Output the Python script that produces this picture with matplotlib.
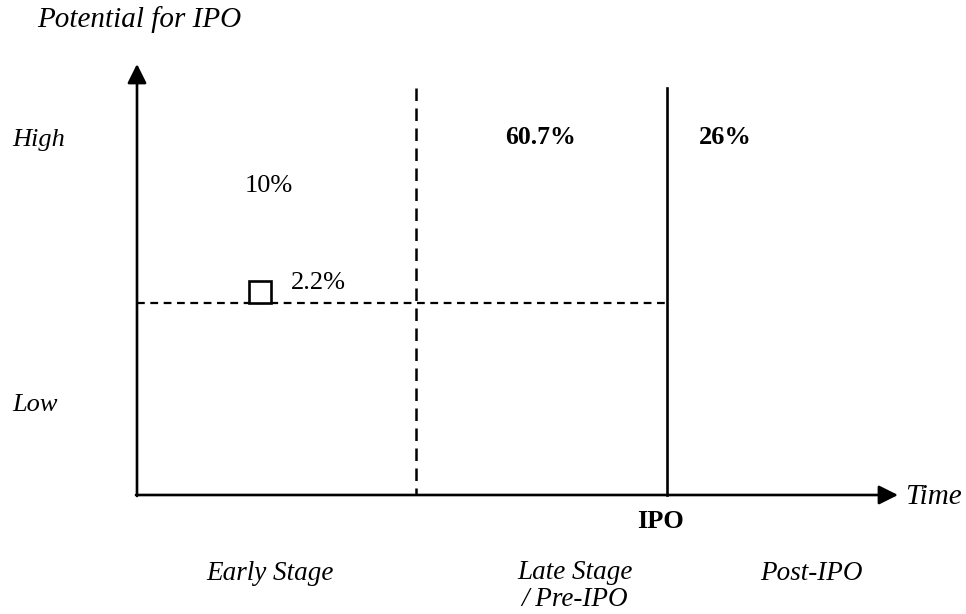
import matplotlib
matplotlib.use("Agg")
import matplotlib.pyplot as plt

# Daten
level_labels = ["High", "Low"]
stage_labels = ["Early Stage", "Late Stage\n/ Pre-IPO", "Post-IPO"]
quadrant_labels = ["10%", "2.2%", "60.7%", "26%"]

plt.rcParams['font.family'] = ['Liberation Serif', 'DejaVu Serif']

fig = plt.figure(figsize=(9.66, 6.14), dpi=100)
ax = fig.add_axes([0, 0, 1, 1])
ax.set_xlim(0, 966)
ax.set_ylim(614, 0)
ax.axis('off')

# Achsen mit Pfeilen
x0, y0 = 137, 495
ax.annotate('', xy=(x0, 64), xytext=(x0, y0 + 1),
            arrowprops=dict(arrowstyle='-|>', color='black', lw=1.9,
                            mutation_scale=29, shrinkA=0, shrinkB=0))
ax.annotate('', xy=(898, y0), xytext=(x0 - 1, y0),
            arrowprops=dict(arrowstyle='-|>', color='black', lw=1.9,
                            mutation_scale=29, shrinkA=0, shrinkB=0))

# Trennlinien
ax.plot([416, 416], [88, y0], color='black', lw=1.8, dashes=(5, 3))
ax.plot([667, 667], [88, y0], color='black', lw=1.9)
ax.plot([x0, 667], [303, 303], color='black', lw=1.6, dashes=(3.5, 2.5))

# Kästchen
ax.plot([260], [292], marker='s', ms=16, mfc='white', mec='black', mew=1.9)

# Beschriftungen
ax.text(37, 20, "Potential for IPO", fontsize=21, style='italic', va='center', ha='left')
ax.text(12, 140, level_labels[0], fontsize=19, style='italic', va='center', ha='left')
ax.text(12, 405, level_labels[1], fontsize=19, style='italic', va='center', ha='left')
ax.text(905, 497, "Time", fontsize=21, style='italic', va='center', ha='left')
ax.text(660, 522, "IPO", fontsize=19, fontweight='bold', va='center', ha='center')

ax.text(269, 186, quadrant_labels[0], fontsize=19, va='center', ha='center')
ax.text(291, 283, quadrant_labels[1], fontsize=19, va='center', ha='left')
ax.text(541, 138, quadrant_labels[2], fontsize=18.5, fontweight='bold', va='center', ha='center')
ax.text(725, 138, quadrant_labels[3], fontsize=19, fontweight='bold', va='center', ha='center')

ax.text(270, 573, stage_labels[0], fontsize=19.5, style='italic', va='center', ha='center')
ax.text(575, 586, stage_labels[1], fontsize=19.5, style='italic', va='center', ha='center',
        linespacing=1.15)
ax.text(811, 573, stage_labels[2], fontsize=19.5, style='italic', va='center', ha='center')

fig.savefig("out.png", dpi=100, facecolor='white')
